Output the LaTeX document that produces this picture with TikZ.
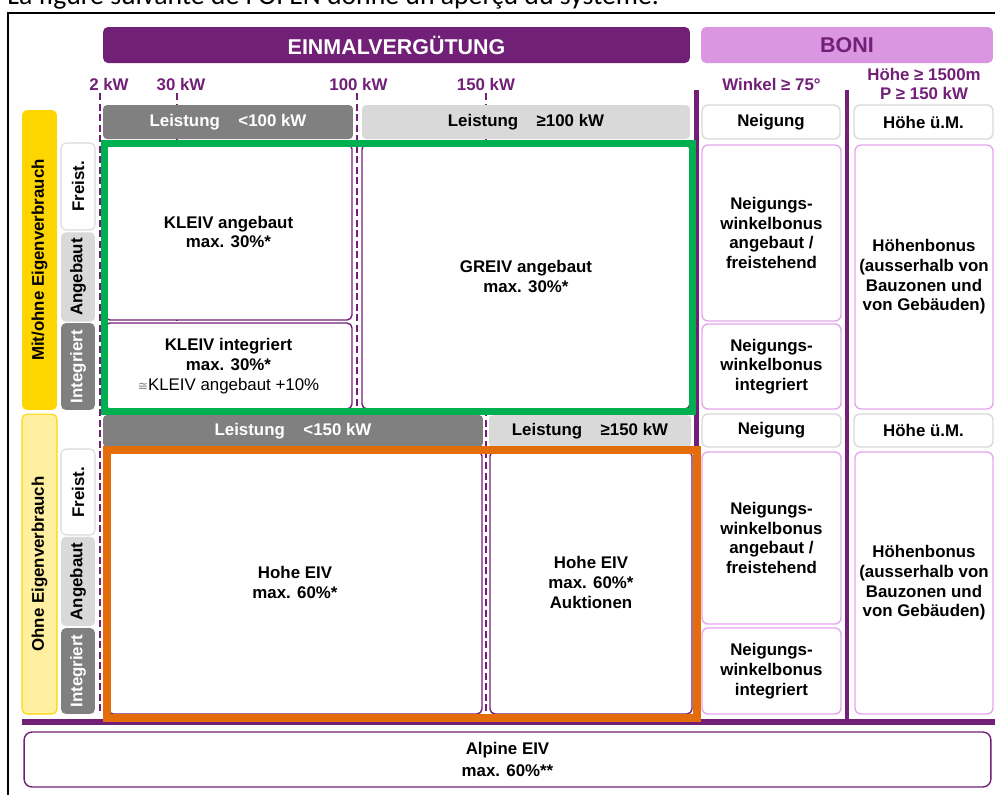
\documentclass[tikz,border=0pt]{standalone}
\usepackage{fontspec}
\setmainfont{Liberation Sans}
\newfontfamily\capfont{Carlito}
\newfontfamily\symfont{DejaVu Sans}
\usepackage{xcolor}
\usepackage{tikz}
\usetikzlibrary{positioning,calc}

\definecolor{lila}{HTML}{722077}
\definecolor{hellila}{HTML}{DA96E0}
\definecolor{rosa}{HTML}{E6A6EC}
\definecolor{gruen}{HTML}{00B050}
\definecolor{orang}{HTML}{E46C0A}
\definecolor{dgrau}{HTML}{808080}
\definecolor{hgrau}{HTML}{D9D9D9}
\definecolor{gelb}{HTML}{FFD500}
\definecolor{hgelb}{HTML}{FFEFA0}

\tikzset{
	txt/.style={font=\fontsize{9.6}{11.2}\selectfont\bfseries, align=center},
	kopf/.style={rectangle, rounded corners=0.1cm, minimum height=0.72cm, font=\fontsize{12.2}{14}\selectfont\bfseries},
	balken/.style={rectangle, rounded corners=0.08cm, minimum height=0.68cm, txt},
	feld/.style={rectangle, draw=lila, line width=0.8pt, fill=white, rounded corners=0.1cm, txt},
	bonus/.style={rectangle, draw=rosa, line width=0.8pt, fill=white, rounded corners=0.12cm, inner sep=2pt, txt},
	seite/.style={rectangle, rotate=90, rounded corners=0.1cm, minimum height=0.68cm, txt},
	strich/.style={lila, line width=0.85pt, dash pattern=on 4pt off 2pt},
	trenn/.style={lila, line width=2.8pt}
}

\begin{document}
\begin{tikzpicture}[x=0.02cm,y=-0.02cm]
	\useasboundingbox (0,0) rectangle (995,795);
	\clip (0,0) rectangle (995,795);
	
	% Titel und Rahmen
	\node[anchor=base west, inner sep=0pt, font=\capfont\fontsize{15.8}{18}\selectfont] (titel) at (7,4.5) {La figure suivante de l'OFEN donne un aperçu du système.};
	\draw[line width=1.1pt] (8,800) -- (8,13) -- (1000,13);
	
	% Kopfzeilen
	\node[kopf, fill=lila, text=white, minimum width=11.74cm] (einmal) at (396.5,45) {EINMALVERGÜTUNG};
	\node[kopf, fill=hellila, text=lila, minimum width=5.84cm] (boni) at (847,45) {BONI};
	
	\node[txt, text=lila] (kw2) at (109,84) {2 kW};
	\node[txt, text=lila] (kw30) at (181,84) {30 kW};
	\node[txt, text=lila] (kw100) at (358.5,84) {100 kW};
	\node[txt, text=lila] (kw150) at (486,84) {150 kW};
	\node[txt, text=lila] (winkel) at (771.5,84) {Winkel ≥ 75°};
	\node[txt, text=lila] (hoehe) at (924,84) {Höhe ≥ 1500m\\P ≥ 150 kW};
	
	% Leistungsgrenzen
	\foreach \x/\y in {100/712,177/410,357/410,486/712}
		\draw[strich] (\x,93) -- (\x,\y);
	
	\draw[trenn] (696.5,90) -- (696.5,722);
	\draw[trenn] (847,90) -- (847,722);
	\draw[lila, line width=3.4pt] (22,722) -- (995,722);
	
	\node[balken, fill=dgrau, text=white, minimum width=5cm] (l100) at (228,122) {Leistung\hspace{1.1em}<100 kW};
	\node[balken, fill=hgrau, minimum width=6.56cm] (g100) at (526,122) {Leistung\hspace{1.1em}≥100 kW};
	\node[balken, fill=dgrau, text=white, minimum width=7.6cm, minimum height=0.64cm] (l150) at (293,431) {Leistung\hspace{1.1em}<150 kW};
	\node[balken, fill=hgrau, minimum width=4.04cm, minimum height=0.64cm] (g150) at (590,431) {Leistung\hspace{1.1em}≥150 kW};
	
	% Seitenbeschriftung
	\node[seite, fill=gelb, minimum width=6cm, minimum height=0.7cm] (mit) at (39.5,260) {Mit/ohne Eigenverbrauch};
	\node[seite, fill=hgelb, draw=gelb, line width=0.6pt, minimum width=6cm, minimum height=0.7cm] (ohne) at (39.5,564) {Ohne Eigenverbrauch};
	\node[seite, fill=white, draw=hgrau, line width=0.6pt, minimum width=1.74cm] (frei1) at (78,186.5) {Freist.};
	\node[seite, fill=hgrau, minimum width=1.76cm] (ang1) at (78,277) {Angebaut};
	\node[seite, fill=dgrau, text=white, minimum width=1.74cm] (int1) at (78,366.5) {Integriert};
	\node[seite, fill=white, draw=hgrau, line width=0.6pt, minimum width=1.72cm] (frei2) at (78,492) {Freist.};
	\node[seite, fill=hgrau, minimum width=1.7cm] (ang2) at (78,581.5) {Angebaut};
	\node[seite, fill=dgrau, text=white, minimum width=1.72cm] (int2) at (78,671) {Integriert};
	
	% Einmalverguetung
	\node[feld, minimum width=4.94cm, minimum height=3.52cm] (kleivang) at (228.5,232) {KLEIV angebaut\\max. 30\%*};
	\node[feld, minimum width=4.94cm, minimum height=1.72cm] (kleivint) at (228.5,366) {KLEIV integriert\\max. 30\%*\\{\mdseries{\symfont\color{dgrau}\scriptsize ≅}KLEIV angebaut +10\%}};
	\node[feld, minimum width=6.56cm, minimum height=5.3cm] (greiv) at (526,276.5) {GREIV angebaut\\max. 30\%*};
	\node[feld, minimum width=7.48cm, minimum height=5.26cm] (hohe) at (295,582.5) {Hohe EIV\\max. 60\%*};
	\node[feld, minimum width=4.04cm, minimum height=5.26cm] (auktion) at (591,582.5) {Hohe EIV\\max. 60\%*\\Auktionen};
	
	\draw[gruen, line width=4pt] (kleivang.north west) rectangle ($(greiv.south east)+(2,2)$);
	\draw[orang, line width=4.5pt] (hohe.north west) rectangle ($(auktion.south east)+(4,3)$);
	
	% Boni
	\node[bonus, draw=hgrau, minimum width=2.76cm, minimum height=0.68cm] (neig1) at (771,122) {Neigung};
	\node[bonus, draw=hgrau, minimum width=2.78cm, minimum height=0.68cm] (hum1) at (923.5,122) {Höhe ü.M.};
	\node[bonus, minimum width=2.78cm, minimum height=3.52cm] (nwb1) at (771.5,233) {Neigungs-\\winkelbonus\\angebaut /\\freistehend};
	\node[bonus, minimum width=2.78cm, minimum height=1.7cm] (nwi1) at (771.5,366.5) {Neigungs-\\winkelbonus\\integriert};
	\node[bonus, minimum width=2.76cm, minimum height=5.28cm] (hb1) at (924,277) {Höhenbonus\\(ausserhalb von\\Bauzonen und\\von Gebäuden)};
	
	\node[bonus, draw=hgrau, minimum width=2.78cm, minimum height=0.66cm] (neig2) at (771.5,430.5) {Neigung};
	\node[bonus, draw=hgrau, minimum width=2.78cm, minimum height=0.66cm] (hum2) at (923.5,430.5) {Höhe ü.M.};
	\node[bonus, minimum width=2.78cm, minimum height=3.44cm] (nwb2) at (771.5,538) {Neigungs-\\winkelbonus\\angebaut /\\freistehend};
	\node[bonus, minimum width=2.78cm, minimum height=1.72cm] (nwi2) at (771.5,671) {Neigungs-\\winkelbonus\\integriert};
	\node[bonus, minimum width=2.76cm, minimum height=5.24cm] (hb2) at (924,583) {Höhenbonus\\(ausserhalb von\\Bauzonen und\\von Gebäuden)};
	
	% Alpine EIV
	\node[feld, minimum width=19.34cm, minimum height=1.1cm, rounded corners=0.16cm, align=center] (alpin) at (507.5,759.5) {Alpine EIV\\[1pt]max. 60\%**};
\end{tikzpicture}
\end{document}
